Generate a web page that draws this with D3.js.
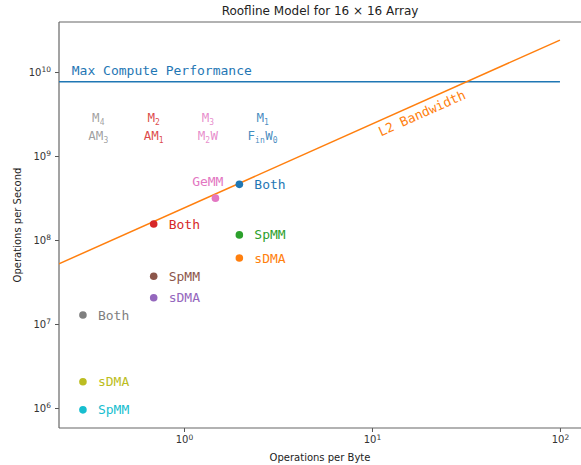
<!DOCTYPE html>
<html lang="en">
<head>
<meta charset="utf-8">
<script src="https://d3js.org/d3.v7.min.js"></script>
<style>
    body { margin: 0; background: #fff; }
    svg { display: block; }
    .mono { font-family: "DejaVu Sans Mono", monospace; }
    .sans { font-family: "DejaVu Sans", sans-serif; }
</style>
</head>
<body>
<svg id="chart"></svg>
<script>
    // values
    const pointNames = ['Both', 'sDMA', 'SpMM', 'SpMM', 'sDMA', 'Both', 'GeMM', 'Both', 'SpMM', 'sDMA'];
    const pointX = [0.29, 0.29, 0.29, 0.69, 0.69, 0.69, 1.47, 1.97, 1.97, 1.97];
    const pointY = [1.28e7, 2.05e6, 9.5e5, 3.7e7, 2.05e7, 1.55e8, 3.15e8, 4.6e8, 1.15e8, 6.1e7];
    const pointColors = ['#7f7f7f', '#bcbd22', '#17becf', '#8c564b', '#9467bd', '#d62728', '#e377c2', '#1f77b4', '#2ca02c', '#ff7f0e'];

    const roofX = [0.216, 100];
    const computeY = [7.68e9, 7.68e9];
    const bandwidthY = [5.2e7, 2.4e10];

    // column headers: [main, sub] pairs per line
    const headerX = [0.35, 0.69, 1.34, 2.62];
    const headerTop = [[['M', '4']], [['M', '2']], [['M', '3']], [['M', '1']]];
    const headerBottom = [[['AM', '3']], [['AM', '1']], [['M', '2'], ['W', '']], [['F', 'in'], ['W', '0']]];
    const headerColors = ['#8f8f8f', '#d62728', '#e377c2', '#1f77b4'];
    const headerY = [2.55e9, 1.55e9];

    const xTicks = [1, 10, 100];
    const yTicks = [1e6, 1e7, 1e8, 1e9, 1e10];

    const width = 581, height = 465;
    const m = {left: 59, right: 581, top: 22, bottom: 428};

    const svg = d3.select('#chart').attr('width', width).attr('height', height);

    const x = d3.scaleLog().domain([0.2163, 129.4]).range([m.left, m.right]);
    const y = d3.scaleLog().domain([5.78e5, 3.94e10]).range([m.bottom, m.top]);

    svg.append('defs').append('clipPath').attr('id', 'clip')
        .append('rect').attr('x', m.left).attr('y', m.top)
        .attr('width', m.right - m.left).attr('height', m.bottom - m.top);

    // axes
    const sup = (g) => {
        g.selectAll('.tick text').each(function (d) {
            const t = d3.select(this);
            t.text('');
            t.append('tspan').text('10');
            t.append('tspan').attr('dy', '-0.45em').attr('font-size', '7.5px')
                .text(Math.round(Math.log10(d)));
        });
    };

    const xMinor = [];
    const yMinor = [];
    [0.1, 1, 10, 100].forEach(b => d3.range(2, 10).forEach(k => {
        const v = b * k;
        if (v > x.domain()[0] && v < x.domain()[1]) xMinor.push(v);
    }));
    [1e5, 1e6, 1e7, 1e8, 1e9, 1e10].forEach(b => d3.range(2, 10).forEach(k => {
        const v = b * k;
        if (v > y.domain()[0] && v < y.domain()[1]) yMinor.push(v);
    }));

    const gx = svg.append('g').attr('transform', `translate(0,${m.bottom})`);
    gx.call(d3.axisBottom(x).tickValues(xMinor).tickSize(2).tickFormat(''));
    gx.call(d3.axisBottom(x).tickValues(xTicks).tickSize(4).tickPadding(4));
    gx.call(sup);

    const gy = svg.append('g').attr('transform', `translate(${m.left},0)`);
    gy.call(d3.axisLeft(y).tickValues(yMinor).tickSize(2).tickFormat(''));
    gy.call(d3.axisLeft(y).tickValues(yTicks).tickSize(4).tickPadding(4));
    gy.call(sup);

    svg.selectAll('.domain').remove();
    svg.selectAll('.tick line').attr('stroke', '#555');
    svg.selectAll('.tick text').attr('class', 'sans').attr('font-size', '10px').attr('fill', '#333');

    // spines
    svg.append('line').attr('x1', m.left).attr('x2', m.right).attr('y1', m.top).attr('y2', m.top)
        .attr('stroke', '#666').attr('stroke-width', 1.2);
    svg.append('line').attr('x1', m.left).attr('x2', m.right).attr('y1', m.bottom).attr('y2', m.bottom)
        .attr('stroke', '#666').attr('stroke-width', 1.2);
    svg.append('line').attr('x1', m.left).attr('x2', m.left).attr('y1', m.top).attr('y2', m.bottom)
        .attr('stroke', '#666').attr('stroke-width', 1.2);

    const plot = svg.append('g').attr('clip-path', 'url(#clip)');
    const line = d3.line().x(d => x(d[0])).y(d => y(d[1]));

    plot.append('path').datum(roofX.map((v, i) => [v, computeY[i]]))
        .attr('d', line).attr('fill', 'none').attr('stroke', '#1f77b4').attr('stroke-width', 1.5);
    plot.append('path').datum(roofX.map((v, i) => [v, bandwidthY[i]]))
        .attr('d', line).attr('fill', 'none').attr('stroke', '#ff7f0e').attr('stroke-width', 1.5);

    svg.append('text').attr('class', 'mono').attr('font-size', '13px').attr('fill', '#1f77b4')
        .attr('x', x(0.253)).attr('y', y(9.3e9)).text('Max Compute Performance');

    // L2 bandwidth label along the line
    const lx = 17.5, ly = 2.4e8 * lx;
    const ang = Math.atan2(y(bandwidthY[1]) - y(bandwidthY[0]), x(roofX[1]) - x(roofX[0])) * 180 / Math.PI;
    svg.append('text').attr('class', 'mono').attr('font-size', '13px').attr('fill', '#ff7f0e')
        .attr('text-anchor', 'middle')
        .attr('transform', `translate(${x(lx)},${y(ly)}) rotate(${ang}) translate(0,15)`)
        .text('L2 Bandwidth');

    // points
    plot.selectAll('circle.pt').data(pointX).join('circle').attr('class', 'pt')
        .attr('cx', (d) => x(d)).attr('cy', (d, i) => y(pointY[i])).attr('r', 3.8)
        .attr('fill', (d, i) => pointColors[i]);

    svg.selectAll('text.lbl').data(pointNames).join('text').attr('class', 'lbl mono')
        .attr('font-size', '13px').attr('fill', (d, i) => pointColors[i])
        .attr('text-anchor', d => d === 'GeMM' ? 'end' : 'start')
        .attr('x', (d, i) => x(pointX[i]) + (d === 'GeMM' ? 8 : 15))
        .attr('y', (d, i) => y(pointY[i]) + (d === 'GeMM' ? -12 : 4.5))
        .text(d => d);

    // column headers with subscripts
    const writeRow = (parts, i, yv) => {
        const t = svg.append('text').attr('class', 'mono').attr('font-size', '12.5px')
            .attr('fill', headerColors[i]).attr('fill-opacity', 0.85)
            .attr('text-anchor', 'middle').attr('x', x(headerX[i])).attr('y', y(yv));
        parts.forEach(p => {
            t.append('tspan').attr('dy', 0).text(p[0]);
            if (p[1]) {
                t.append('tspan').attr('font-size', '8px').attr('dy', 3).text(p[1]);
                t.append('tspan').attr('font-size', '1px').attr('dy', -3).text(' ');
            }
        });
    };
    headerTop.forEach((p, i) => writeRow(p, i, headerY[0]));
    headerBottom.forEach((p, i) => writeRow(p, i, headerY[1]));

    // titles
    svg.append('text').attr('class', 'sans').attr('font-size', '12px').attr('fill', '#222')
        .attr('text-anchor', 'middle').attr('x', (m.left + m.right) / 2).attr('y', 15)
        .text('Roofline Model for 16 \u00d7 16 Array');
    svg.append('text').attr('class', 'sans').attr('font-size', '10px').attr('fill', '#222')
        .attr('text-anchor', 'middle').attr('x', (m.left + m.right) / 2).attr('y', 461)
        .text('Operations per Byte');
    svg.append('text').attr('class', 'sans').attr('font-size', '10px').attr('fill', '#222')
        .attr('text-anchor', 'middle')
        .attr('transform', `translate(21,${(m.top + m.bottom) / 2}) rotate(-90)`)
        .text('Operations per Second');
</script>
</body>
</html>
